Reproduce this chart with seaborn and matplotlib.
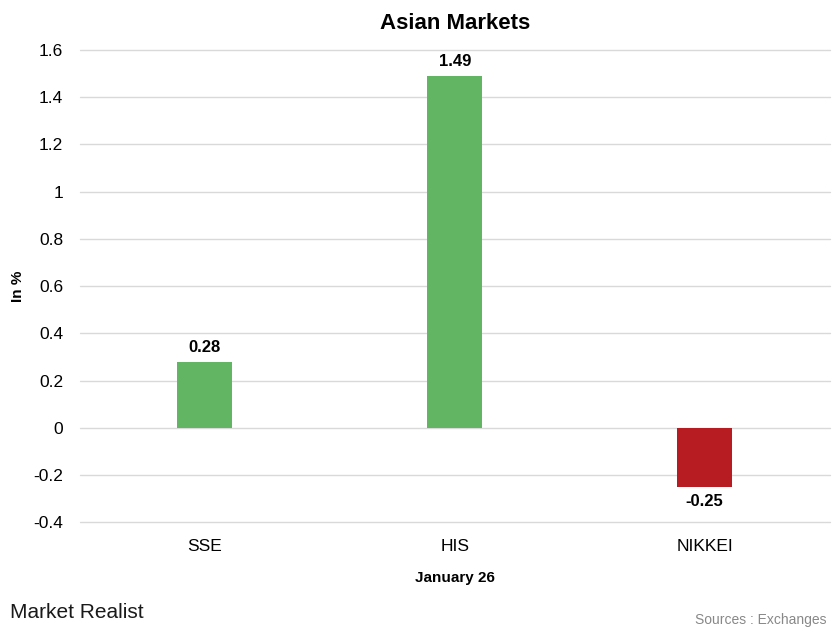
import matplotlib
matplotlib.use("Agg")
import matplotlib.pyplot as plt
import seaborn as sns
import pandas as pd

categories = ["SSE", "HIS", "NIKKEI"]
values = [0.28, 1.49, -0.25]
labels = ["0.28", "1.49", "-0.25"]
yticks = [-0.4, -0.2, 0, 0.2, 0.4, 0.6, 0.8, 1, 1.2, 1.4, 1.6]
ytick_labels = ["-0.4", "-0.2", "0", "0.2", "0.4", "0.6", "0.8", "1", "1.2", "1.4", "1.6"]

sns.set_theme(style="white")
plt.rcParams['font.family'] = ['Liberation Sans', 'DejaVu Sans']

df = pd.DataFrame({"cat": categories, "val": values})
palette = {"SSE": "#62B562", "HIS": "#62B562", "NIKKEI": "#B71C23"}

fig = plt.figure(figsize=(8.33, 6.33), dpi=100)
ax = fig.add_axes([0.096, 0.175, 0.9, 0.746])
sns.barplot(data=df, x="cat", y="val", hue="cat", palette=palette, width=0.22,
            legend=False, ax=ax, saturation=1, zorder=3, linewidth=0)
ax.set_ylim(-0.4, 1.6)
ax.set_xlim(-0.5, 2.5)
ax.set_yticks(yticks)
ax.set_yticklabels(ytick_labels, fontsize=12.5, color="black")
ax.tick_params(axis="x", labelsize=12.5, colors="black", pad=12)
ax.tick_params(axis="y", pad=12, length=0)
ax.tick_params(axis="x", length=0)
ax.yaxis.grid(True, color="#d9d9d9", linewidth=1, zorder=0)
for gl in ax.get_ygridlines():
    gl.set_clip_on(False)
ax.set_axisbelow(True)
for s in ax.spines.values():
    s.set_visible(False)
ax.set_xlabel("January 26", fontsize=11, fontweight="bold", labelpad=12, color="black")
ax.set_ylabel("In %", fontsize=11, fontweight="bold", labelpad=6, color="black")
ax.set_title("Asian Markets", fontsize=16, fontweight="bold", pad=15, color="black")

for i, (v, lab) in enumerate(zip(values, labels)):
    if v >= 0:
        ax.annotate(lab, (i, v), xytext=(0, 5), textcoords="offset points",
                    ha="center", va="bottom", fontsize=12, fontweight="bold", color="black")
    else:
        ax.annotate(lab, (i, v), xytext=(0, -5), textcoords="offset points",
                    ha="center", va="top", fontsize=12, fontweight="bold", color="black")

fig.text(0.012, 0.033, "Market Realist", fontsize=15, color="#1a1a1a", ha="left", va="center")
fig.text(0.992, 0.02, "Sources : Exchanges", fontsize=10, color="#888888", ha="right", va="center")

fig.savefig("out.png", dpi=100)
